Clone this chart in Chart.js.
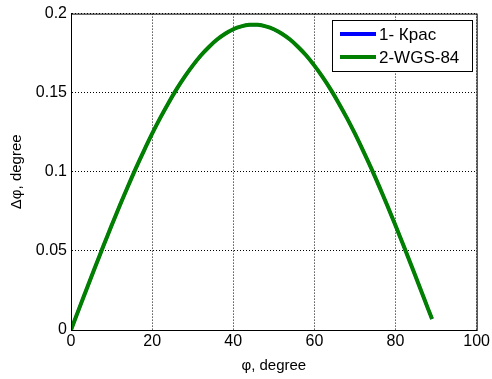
<!DOCTYPE html>
<html>
<head>
<meta charset="utf-8">
<script src="https://cdn.jsdelivr.net/npm/chart.js@4.4.1/dist/chart.umd.min.js"></script>
<style>
  html, body { margin: 0; padding: 0; background: #fff; }
  #wrap { width: 492px; height: 379px; }
</style>
</head>
<body>
<div id="wrap"><canvas id="chart" width="492" height="379"></canvas></div>
<script>
// latitude, degree
const phi = [0, 2, 4, 6, 8, 10, 12, 14, 16, 18, 20, 22, 24, 26, 28, 30, 32, 34, 36, 38, 40, 42, 44,
  46, 48, 50, 52, 54, 56, 58, 60, 62, 64, 66, 68, 70, 72, 74, 76, 78, 80, 82, 84, 86, 88, 89];

// Δφ, degree
const krasovsky = [0, 0.0135, 0.0269, 0.0401, 0.0532, 0.0660, 0.0785, 0.0906, 0.1023, 0.1134, 0.1241,
  0.1341, 0.1434, 0.1521, 0.1600, 0.1671, 0.1735, 0.1789, 0.1836, 0.1873, 0.1901, 0.1919, 0.1929,
  0.1929, 0.1919, 0.1901, 0.1873, 0.1836, 0.1789, 0.1735, 0.1671, 0.1600, 0.1521, 0.1434, 0.1341,
  0.1241, 0.1134, 0.1023, 0.0906, 0.0785, 0.0660, 0.0532, 0.0401, 0.0269, 0.0135, 0.0070];
const wgs84 = [0, 0.0135, 0.0269, 0.0401, 0.0532, 0.0660, 0.0785, 0.0906, 0.1023, 0.1134, 0.1241,
  0.1341, 0.1434, 0.1521, 0.1600, 0.1671, 0.1735, 0.1789, 0.1836, 0.1873, 0.1901, 0.1919, 0.1929,
  0.1929, 0.1919, 0.1901, 0.1873, 0.1836, 0.1789, 0.1735, 0.1671, 0.1600, 0.1521, 0.1434, 0.1341,
  0.1241, 0.1134, 0.1023, 0.0906, 0.0785, 0.0660, 0.0532, 0.0401, 0.0269, 0.0135, 0.0070];

const seriesNames = ["1- Крас", "2-WGS-84"];
const xTicks = [0, 20, 40, 60, 80, 100];
const yTicks = [0, 0.05, 0.1, 0.15, 0.2];

const FONT = "'Liberation Sans', Arial, sans-serif";

// box round the plot + matlab style legend
const boxLegend = {
  id: "boxLegend",
  afterDraw(chart) {
    const { ctx, chartArea: a } = chart;
    ctx.save();
    ctx.strokeStyle = "#000";
    ctx.lineWidth = 1;
    ctx.strokeRect(a.left + 0.5, a.top + 0.5, a.right - a.left, a.bottom - a.top);

    const lx = 332, ly = 20, lw = 140, lh = 51;
    ctx.fillStyle = "#fff";
    ctx.fillRect(lx, ly, lw, lh);
    ctx.strokeRect(lx + 0.5, ly + 0.5, lw, lh);
    ctx.font = "17px " + FONT;
    ctx.textBaseline = "middle";
    chart.data.datasets.forEach((ds, i) => {
      const y = ly + 14 + i * 23;
      ctx.strokeStyle = ds.borderColor;
      ctx.lineWidth = 4;
      ctx.beginPath();
      ctx.moveTo(lx + 8, y);
      ctx.lineTo(lx + 44, y);
      ctx.stroke();
      ctx.fillStyle = "#000";
      ctx.fillText(ds.label, lx + 47, y + 1);
    });
    ctx.restore();
  }
};

new Chart(document.getElementById("chart"), {
  type: "line",
  data: {
    datasets: [
      { label: seriesNames[0], data: phi.map((x, i) => ({ x, y: krasovsky[i] })), order: 2,
        borderColor: "#0000ff", borderWidth: 3, pointRadius: 0, tension: 0.3 },
      { label: seriesNames[1], data: phi.map((x, i) => ({ x, y: wgs84[i] })), order: 1,
        borderColor: "#007f00", borderWidth: 4, pointRadius: 0, tension: 0.3 }
    ]
  },
  options: {
    responsive: false,
    animation: false,
    layout: { padding: { top: 13, right: 15, left: 0, bottom: 0 } },
    plugins: { legend: { display: false }, tooltip: { enabled: false } },
    scales: {
      x: {
        type: "linear", min: 0, max: 100,
        afterBuildTicks: s => { s.ticks = xTicks.map(v => ({ value: v })); },
        afterFit: s => { s.height = 49; },
        ticks: { color: "#000", font: { family: FONT, size: 16 }, padding: 2, maxRotation: 0,
          callback: v => String(v) },
        grid: { color: "#000", lineWidth: 1, drawTicks: false, tickLength: 0 },
        border: { display: true, color: "#000", dash: [1, 2] },
        title: { display: true, text: "φ, degree", color: "#000", font: { family: FONT, size: 15 }, padding: { top: 0 } }
      },
      y: {
        type: "linear", min: 0, max: 0.2,
        afterBuildTicks: s => { s.ticks = yTicks.map(v => ({ value: v })); },
        afterFit: s => { s.width = 71; },
        ticks: { color: "#000", font: { family: FONT, size: 16 }, padding: 4,
          callback: v => String(v) },
        grid: { color: "#000", lineWidth: 1, drawTicks: false },
        border: { display: true, color: "#000", dash: [1, 2] },
        title: { display: true, text: "Δφ, degree", color: "#000", font: { family: FONT, size: 15 }, padding: { top: 8, bottom: 2 } }
      }
    }
  },
  plugins: [boxLegend]
});
</script>
</body>
</html>
